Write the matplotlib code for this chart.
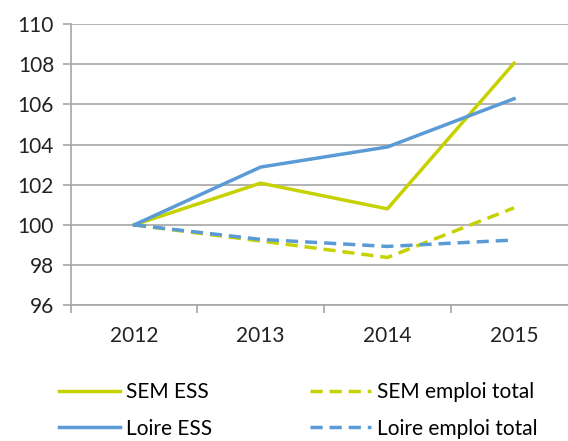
import matplotlib
matplotlib.use("Agg")
import matplotlib.pyplot as plt

plt.rcParams['font.family'] = ['Lato', 'DejaVu Sans']

years = ['2012', '2013', '2014', '2015']
sem_ess = [100, 102.08, 100.8, 108.05]
loire_ess = [100, 102.88, 103.88, 106.28]
sem_total = [100, 99.2, 98.38, 100.85]
loire_total = [100, 99.28, 98.93, 99.25]

yellow = '#C6D200'
blue = '#5B9BD5'

fig = plt.figure(figsize=(5.68, 4.41), dpi=100)
ax = fig.add_axes([0.1245, 0.3077, 0.892, 0.6379])

x = range(len(years))
ax.plot(x, sem_ess, color=yellow, lw=2.5, label='SEM ESS')
ax.plot(x, sem_total, color=yellow, lw=2.5, ls=(0, (3.5, 2)), label='SEM emploi total')
ax.plot(x, loire_ess, color=blue, lw=2.5, label='Loire ESS')
ax.plot(x, loire_total, color=blue, lw=2.5, ls=(0, (3.5, 2)), label='Loire emploi total')

ax.set_xlim(-0.5, 3.5)
ax.set_ylim(96, 110)
ax.set_yticks(range(96, 111, 2))
ax.set_xticks(x)
ax.set_xticklabels(years)
ax.set_xticks([-0.5, 0.5, 1.5, 2.5, 3.5], minor=True)
ax.tick_params(axis='x', which='major', length=0, pad=15, labelsize=15, colors='#222222')
ax.tick_params(axis='x', which='minor', length=6, color='#A6A6A6', width=1.2, direction='out')
ax.tick_params(axis='y', length=6, color='#A6A6A6', width=1.2, pad=6, labelsize=15, colors='#222222')
ax.grid(axis='y', color='#A6A6A6', lw=1.2)
ax.set_axisbelow(True)
for s in ['top', 'right']:
    ax.spines[s].set_visible(False)
ax.spines['left'].set_color('#A6A6A6')
ax.spines['bottom'].set_color('#A6A6A6')
ax.spines['left'].set_linewidth(1.2)
ax.spines['bottom'].set_linewidth(1.2)

handles, labels = ax.get_legend_handles_labels()
order = [0, 2, 1, 3]
fig.legend([handles[i] for i in order], [labels[i] for i in order],
           ncol=2, loc='upper left', bbox_to_anchor=(0.09, 0.1525),
           frameon=False, fontsize=15, handlelength=2.9, handletextpad=0.3,
           columnspacing=4.7, labelspacing=0.8, borderaxespad=0)

fig.savefig('out.png', dpi=100)
